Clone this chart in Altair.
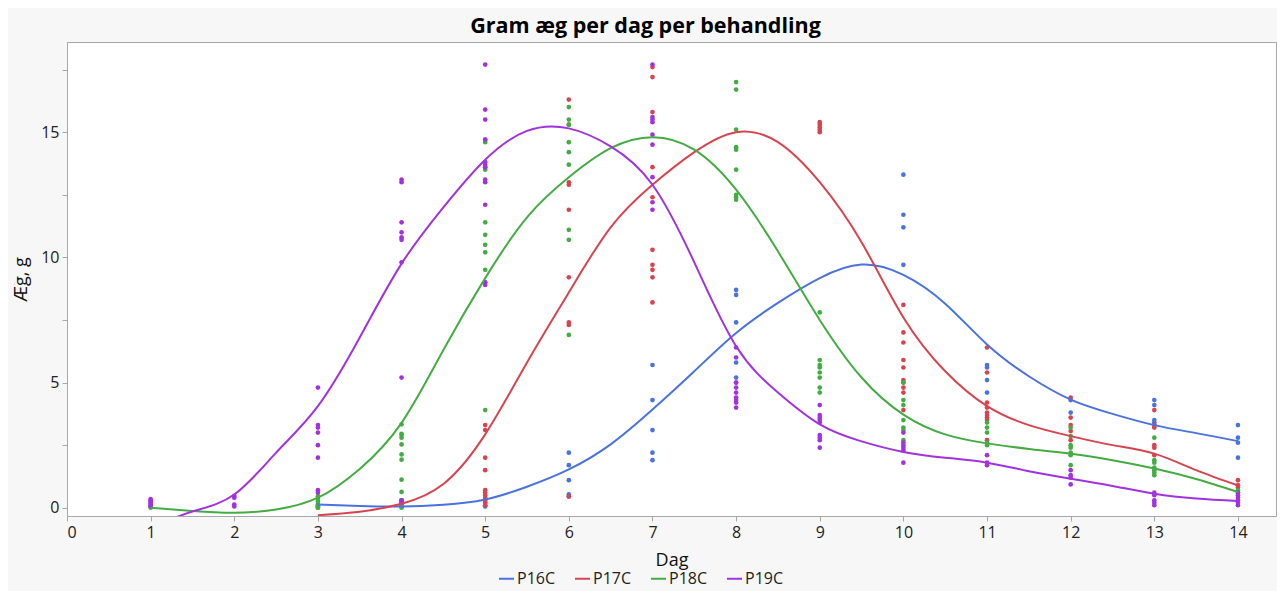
import altair as alt
import pandas as pd

series = ["P16C", "P17C", "P18C", "P19C"]
colors = ["#4a72e0", "#d9434f", "#43ad43", "#a232e0"]

# observed points: day -> values
P16C_points = {
    3: [0.1, 0.05], 4: [0.3, 0.2, 0.1], 5: [0.4, 0.3, 0.2, 0.1, 0.05],
    6: [2.2, 1.7, 1.1, 0.53, 0.45], 7: [5.7, 4.3, 3.1, 2.2, 1.9],
    8: [8.7, 8.5, 7.4, 5.8, 5.2, 5.0], 10: [13.3, 11.7, 11.2, 9.7],
    11: [5.7, 5.6, 5.1, 4.6], 12: [4.3, 3.8], 13: [4.3, 4.1, 3.5, 3.4, 3.3],
    14: [3.3, 2.8, 2.6, 2.0],
}
P17C_points = {
    3: [0.0], 4: [0.2, 0.1, 0.05],
    5: [3.3, 3.1, 2.0, 1.5, 0.7, 0.6, 0.5, 0.35, 0.2, 0.1],
    6: [16.3, 15.3, 13.0, 12.9, 11.9, 9.2, 7.4, 7.3, 0.45],
    7: [17.6, 17.2, 15.8, 13.6, 12.4, 10.3, 9.7, 9.5, 9.2, 8.2],
    9: [15.4, 15.3, 15.2, 15.1, 15.0],
    10: [8.1, 7.0, 6.6, 5.9, 5.6, 5.1, 5.0, 4.8, 4.6, 3.9],
    11: [6.4, 5.4, 4.2, 4.0, 3.8, 3.7, 3.6, 3.5, 2.7],
    12: [4.4, 3.6, 3.3, 3.06, 2.7], 13: [3.9, 3.3, 3.2, 2.5, 2.4, 2.1],
    14: [1.1, 0.9, 0.8],
}
P18C_points = {
    1: [0.0], 3: [0.45, 0.35, 0.25, 0.15, 0.05, 0.0],
    4: [3.33, 2.95, 2.9, 2.8, 2.53, 2.13, 1.92, 1.12, 0.63, 0.3, 0.1, 0.0],
    5: [14.7, 14.6, 13.6, 13.5, 11.4, 10.9, 10.5, 10.2, 9.5, 9.0, 3.9],
    6: [16.0, 15.5, 15.3, 14.6, 14.2, 13.7, 11.1, 10.7, 6.9],
    8: [17.0, 16.7, 15.1, 14.4, 14.3, 13.5, 12.5, 12.4, 12.3],
    9: [7.8, 5.9, 5.7, 5.6, 5.4, 5.2, 4.8, 4.6],
    10: [5.0, 4.3, 4.1, 3.5, 3.2, 3.1, 2.7], 11: [3.4, 3.2, 3.0, 2.6, 2.5],
    12: [3.2, 2.86, 2.5, 2.4, 2.2, 2.1, 1.7], 13: [2.8, 1.9, 1.8, 1.6, 1.5, 1.4, 1.3],
    14: [0.7, 0.6],
}
P19C_points = {
    1: [0.35, 0.3, 0.25, 0.2, 0.15, 0.1, 0.05], 2: [0.47, 0.4, 0.13, 0.05],
    3: [4.8, 3.3, 3.2, 3.0, 2.5, 2.0, 0.7, 0.6],
    4: [13.1, 13.0, 11.4, 11.0, 10.8, 10.7, 9.8, 5.2, 0.3, 0.2],
    5: [17.7, 15.9, 15.5, 14.7, 13.8, 13.7, 13.6, 13.1, 13.0, 12.1, 9.0, 8.9],
    7: [17.7, 15.6, 15.5, 15.4, 14.9, 14.5, 13.2, 12.2, 11.9],
    8: [6.4, 6.0, 5.0, 4.8, 4.6, 4.4, 4.3, 4.2, 4.0],
    9: [4.1, 3.7, 3.6, 3.5, 3.4, 2.9, 2.8, 2.7, 2.4],
    10: [3.0, 2.6, 2.5, 2.4, 2.3, 1.8], 11: [2.1, 1.8, 1.7],
    12: [1.5, 1.3, 1.2, 0.93], 13: [0.6, 0.5, 0.3, 0.2, 0.1],
    14: [0.6, 0.5, 0.4, 0.3, 0.2, 0.1],
}

# smoothed curves
curve_x = [1, 1.5, 2, 2.5, 3, 3.5, 4, 4.5, 5, 5.5, 6, 6.5, 7, 7.5, 8, 8.5, 9,
           9.5, 10, 10.5, 11, 11.5, 12, 12.5, 13, 13.5, 14]
P16C_curve = [None, None, None, None, 0.13, 0.07, 0.05, 0.12, 0.33, 0.84, 1.53, 2.53,
              3.92, 5.45, 6.98, 8.18, 9.17, 9.71, 9.3, 8.15, 6.52, 5.25, 4.32, 3.75,
              3.3, 2.98, 2.66]
P17C_curve = [None, None, None, None, -0.3, -0.16, 0.16, 0.95, 2.93, 5.8, 8.6, 11.2,
              12.9, 14.2, 15.0, 14.6, 13.0, 10.6, 7.6, 5.45, 4.06, 3.3, 2.86, 2.5,
              2.16, 1.5, 0.89]
P18C_curve = [0.0, -0.13, -0.2, -0.07, 0.4, 1.55, 3.39, 6.3, 9.17, 11.6, 13.2, 14.36,
              14.8, 14.3, 12.7, 10.24, 7.5, 5.2, 3.72, 2.93, 2.57, 2.35, 2.16, 1.9,
              1.57, 1.15, 0.63]
P19C_curve = [-0.8, -0.15, 0.53, 2.2, 4.06, 6.8, 9.75, 12.0, 13.9, 15.05, 15.15, 14.43,
              12.9, 9.8, 6.45, 4.6, 3.33, 2.65, 2.23, 2.0, 1.8, 1.46, 1.16, 0.87, 0.56,
              0.37, 0.27]

x_ticks = list(range(0, 15))
y_ticks = [0, 2.5, 5, 7.5, 10, 12.5, 15, 17.5]

pts_rows = []
for name, d in zip(series, [P16C_points, P17C_points, P18C_points, P19C_points]):
    for day, vals in d.items():
        for v in vals:
            pts_rows.append({"Dag": day, "Aeg": v, "Behandling": name})
pts = pd.DataFrame(pts_rows)

cur_rows = []
for name, c in zip(series, [P16C_curve, P17C_curve, P18C_curve, P19C_curve]):
    for x, v in zip(curve_x, c):
        if v is not None:
            cur_rows.append({"Dag": x, "Aeg": v, "Behandling": name})
cur = pd.DataFrame(cur_rows)

FONT = "Open Sans"
xs = alt.Scale(domain=[0, 14.455], nice=False, zero=False)
ys = alt.Scale(domain=[-0.33, 18.6], nice=False, zero=False)
cs = alt.Scale(domain=series, range=colors)

leg = alt.Legend(title=None, orient="none", direction="horizontal",
                 legendX=431, legendY=528, symbolType="stroke",
                 symbolSize=225, symbolStrokeWidth=2,
                 labelFontSize=16, labelFont=FONT, labelColor="#222",
                 labelOffset=2, columnPadding=16)

x_enc = alt.X("Dag:Q", scale=xs,
              axis=alt.Axis(values=x_ticks, title="Dag", format="d", grid=False))
y_enc = alt.Y("Aeg:Q", scale=ys,
              axis=alt.Axis(values=y_ticks, title="Æg, g", grid=False,
                            labelExpr="datum.value % 5 == 0 ? format(datum.value, 'd') : ''"))

points = alt.Chart(pts).mark_circle(size=22, opacity=1).encode(
    x=x_enc, y=y_enc,
    color=alt.Color("Behandling:N", scale=cs, legend=leg),
    order=alt.Order("Behandling:N"),
)

lines = alt.Chart(cur).mark_line(interpolate="natural", strokeWidth=2, clip=True).encode(
    x=x_enc, y=y_enc,
    color=alt.Color("Behandling:N", scale=cs, legend=leg),
)

chart = alt.layer(points, lines).properties(
    width=1209, height=474,
    title=alt.TitleParams("Gram æg per dag per behandling", fontSize=21.5, font=FONT,
                          fontWeight="bold", color="#000", anchor="middle", dx=-26,
                          offset=5),
    padding={"left": 59, "top": 34, "right": 1, "bottom": 75},
    autosize=alt.AutoSizeParams(type="none"),
    background="#f7f7f7",
).configure_view(
    fill="white", stroke="#a8a8a8", strokeWidth=1,
).configure_axis(
    labelFont=FONT, labelFontSize=16, labelColor="#222", titleFont=FONT,
    titleFontSize=18, titleColor="#111", titleFontWeight="normal",
    domainColor="#a8a8a8", tickColor="#a8a8a8", tickSize=5, labelPadding=3,
).configure_axisX(titlePadding=11).configure_axisY(titlePadding=10)

chart.save("out.html", embed_options={"renderer": "svg", "actions": False})
